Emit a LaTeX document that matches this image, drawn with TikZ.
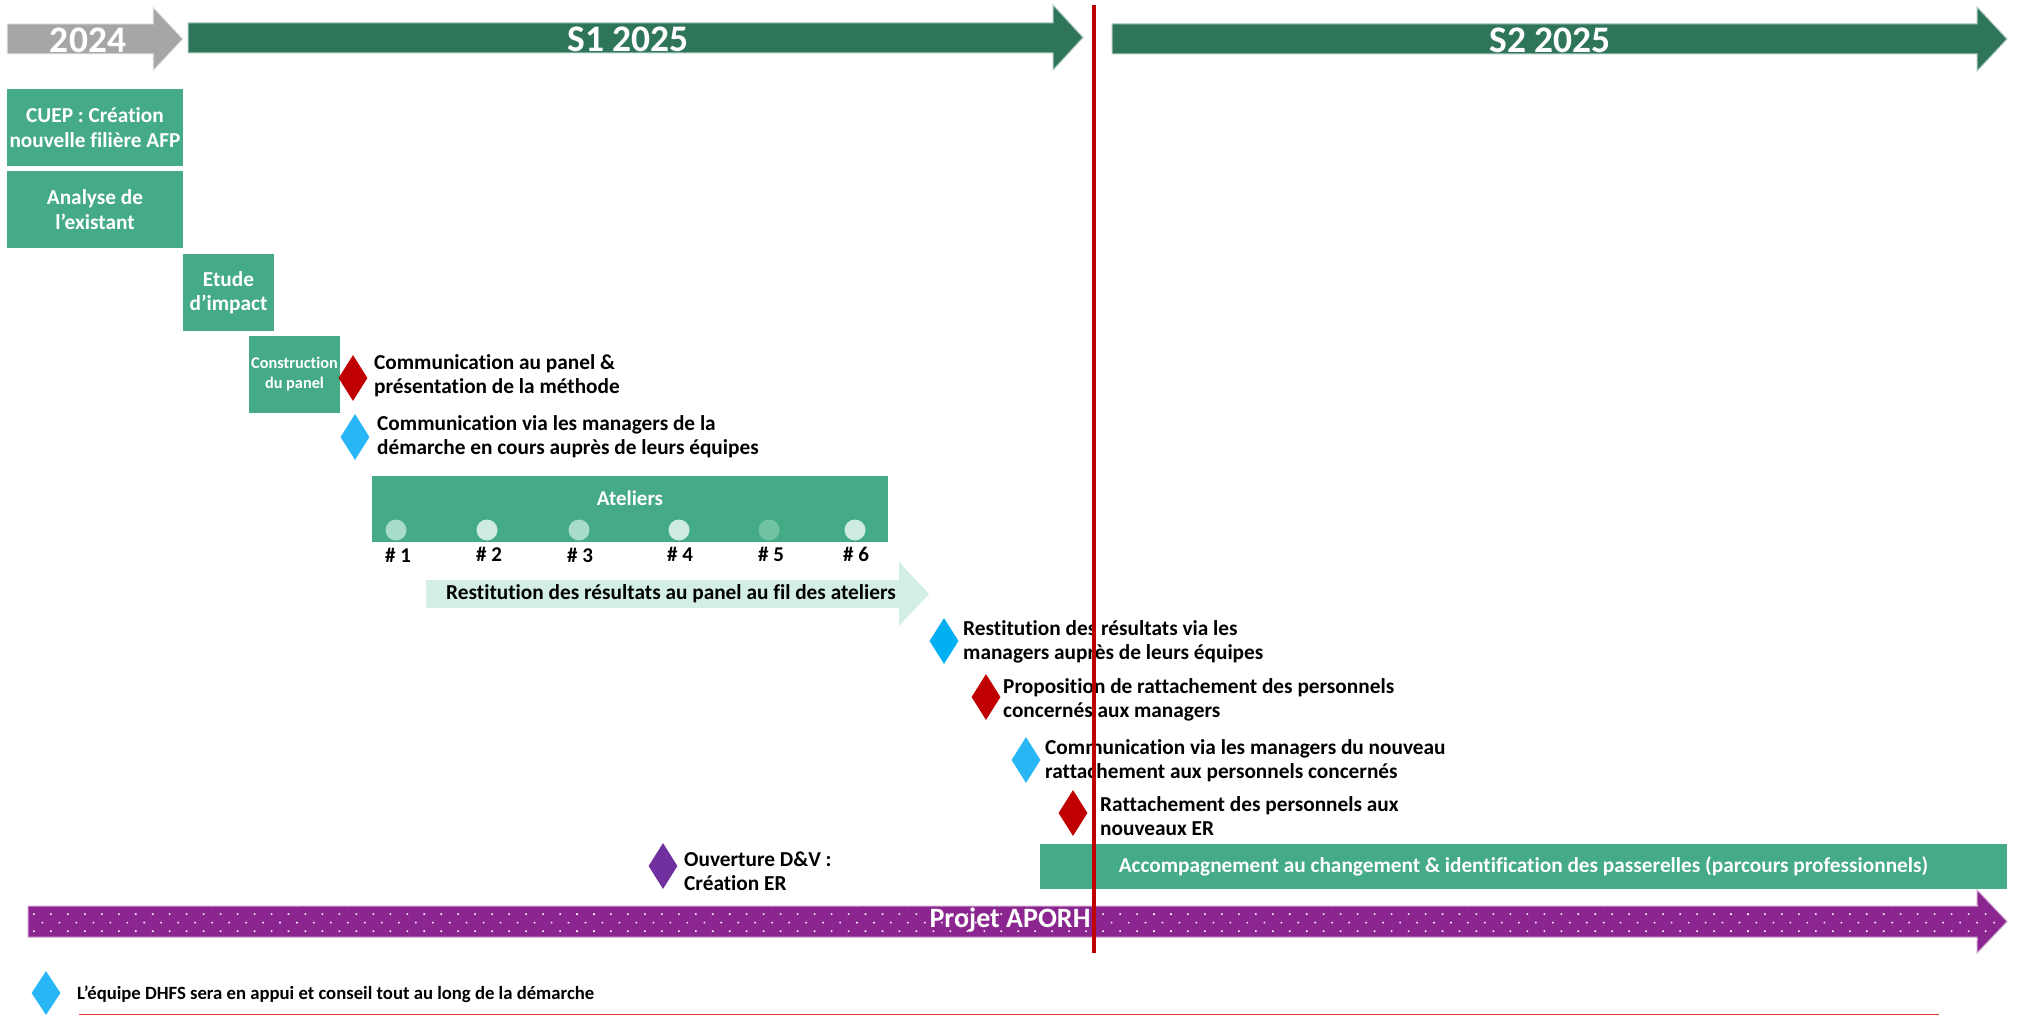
\documentclass[tikz,border=0pt]{standalone}
\usepackage{fontspec}
\setmainfont{Carlito}[Ligatures=NoCommon]
\usetikzlibrary{shapes.geometric,patterns.meta}

\definecolor{dkgreen}{RGB}{46,117,89}
\definecolor{boxgreen}{RGB}{69,171,134}
\definecolor{arrgray}{RGB}{166,166,166}
\definecolor{redline}{RGB}{192,0,0}
\definecolor{dred}{RGB}{192,0,0}
\definecolor{blueA}{RGB}{0,176,240}
\definecolor{blueB}{RGB}{41,182,246}
\definecolor{dpurple}{RGB}{112,48,160}
\definecolor{projpurple}{RGB}{139,38,144}
\definecolor{mint}{RGB}{211,239,228}
\definecolor{bottomred}{RGB}{224,60,50}
\definecolor{cA}{RGB}{168,220,200}
\definecolor{cB}{RGB}{205,235,223}
\definecolor{cC}{RGB}{112,196,164}

\begin{document}
\begin{tikzpicture}[x=1pt,y=-1pt,
  gbox/.style={rectangle, fill=boxgreen, text=white, font=\bfseries\fontsize{21.3}{24.5}\selectfont, align=center, inner sep=0pt},
  milestone/.style={diamond, minimum width=29pt, minimum height=46pt, inner sep=0pt},
  lbl/.style={anchor=west, inner sep=0pt, align=left, font=\bfseries\fontsize{21.3}{24}\selectfont},
  yearlbl/.style={text=white, inner sep=0pt, font=\bfseries\fontsize{37.5}{40}\selectfont},
  dot/.style={circle, minimum size=21pt, inner sep=0pt},
  numlbl/.style={inner sep=0pt, font=\bfseries\fontsize{21}{24}\selectfont}
]
\useasboundingbox (0,0) rectangle (2017,1016);

% --- top timeline arrows ---
\fill[arrgray, draw=white!75!arrgray, line width=1pt] (7,24) -- (153,24) -- (153,7) -- (183,39) -- (153,71) -- (153,54) -- (7,54) -- cycle;
\node[yearlbl] (y2024) at (88,40) {2024};

\fill[dkgreen, draw=white!60!dkgreen, line width=1pt] (188,23) -- (1053,23) -- (1053,5) -- (1083,37.5) -- (1053,70) -- (1053,53) -- (188,53) -- cycle;
\node[yearlbl] (s1) at (628,39) {S1 2025};

\fill[dkgreen, draw=white!60!dkgreen, line width=1pt] (1112,24) -- (1977,24) -- (1977,7) -- (2007,39) -- (1977,71) -- (1977,54) -- (1112,54) -- cycle;
\node[yearlbl] (s2) at (1550,40) {S2 2025};

% --- green task boxes ---
\node[gbox, minimum width=176pt, minimum height=77pt] (cuep) at (95,127.5) {CUEP : Création\\nouvelle filière AFP};
\node[gbox, minimum width=176pt, minimum height=77pt] (analyse) at (95,209.5) {Analyse de\\l’existant};
\node[gbox, minimum width=91pt, minimum height=77pt] (etude) at (228.5,292.5) {Etude\\d’impact};
\node[gbox, minimum width=91pt, minimum height=77pt, font=\bfseries\fontsize{16.3}{20}\selectfont] (constr) at (294.5,374.5) {Construction\\du panel};

% --- milestones ---
\node[milestone, fill=dred] (m1) at (353,378) {};
\node[lbl] (t1) at (374,376) {Communication au panel \&\\présentation de la méthode};
\node[milestone, fill=blueB] (m2) at (355,437) {};
\node[lbl] (t2) at (377,437) {Communication via les managers de la\\démarche en cours auprès de leurs équipes};

% --- ateliers ---
\node[gbox, minimum width=516pt, minimum height=66pt] (ateliers) at (630,509) {};
\node[numlbl, text=white] (ateltxt) at (630,498) {Ateliers};
\node[dot, fill=cA] (a1) at (396,530) {};
\node[dot, fill=cB] (a2) at (487,530) {};
\node[dot, fill=cA] (a3) at (579,530) {};
\node[dot, fill=cB] (a4) at (679,530) {};
\node[dot, fill=cC] (a5) at (769,530) {};
\node[dot, fill=cB] (a6) at (855,530) {};
\node[numlbl] (n1) at (398,555) {\# 1};
\node[numlbl] (n2) at (489,554) {\# 2};
\node[numlbl] (n3) at (580,555) {\# 3};
\node[numlbl] (n4) at (680,554) {\# 4};
\node[numlbl] (n5) at (771,554) {\# 5};
\node[numlbl] (n6) at (856,554) {\# 6};

% --- restitution arrow ---
\fill[mint] (426,580) -- (899,580) -- (899,562) -- (929,594) -- (899,626) -- (899,608) -- (426,608) -- cycle;
\node[numlbl, font=\bfseries\fontsize{21.3}{24}\selectfont] (resti) at (671,594) {Restitution des résultats au panel au fil des ateliers};

% --- later milestones ---
\node[milestone, fill=blueA] (m3) at (944,641) {};
\node[lbl] (t3) at (963,642) {Restitution des résultats via les\\managers auprès de leurs équipes};
\node[milestone, fill=dred] (m4) at (986,697) {};
\node[lbl] (t4) at (1003,700) {Proposition de rattachement des personnels\\concernés aux managers};
\node[milestone, fill=blueB] (m5) at (1026,760) {};
\node[lbl] (t5) at (1045,761) {Communication via les managers du nouveau\\rattachement aux personnels concernés};
\node[milestone, fill=dred] (m6) at (1073,813) {};
\node[lbl] (t6) at (1100,816) {Rattachement des personnels aux\\nouveaux ER};
\node[milestone, fill=dpurple] (m7) at (663,866) {};
\node[lbl] (t7) at (684,871) {Ouverture D\&V :\\Création ER};

% --- accompagnement ---
\node[gbox, minimum width=967pt, minimum height=45pt] (accomp) at (1523.5,866.5) {Accompagnement au changement \& identification des passerelles (parcours professionnels)};

% --- projet APORH arrow ---
\path[preaction={fill=projpurple}, pattern={Dots[distance=12pt, angle=45, radius=1.1pt]}, pattern color=white, draw=white!55!projpurple, line width=1pt]
  (28,906) -- (1977,906) -- (1977,890) -- (2007,921.5) -- (1977,953) -- (1977,937) -- (28,937) -- cycle;
\node[text=white, inner sep=0pt, font=\bfseries\fontsize{28}{32}\selectfont] (aporh) at (1010,920) {Projet APORH};

% --- legend ---
\node[milestone, fill=blueB, minimum height=44pt] (leg) at (46,993) {};
\node[lbl, font=\bfseries\fontsize{18.7}{22}\selectfont] (legt) at (77,994) {L’équipe DHFS sera en appui et conseil tout au long de la démarche};
\coordinate (bl1) at (79,1014.5);
\coordinate (bl2) at (1939,1014.5);
\draw[bottomred, line width=1.5pt] (bl1) -- (bl2);

% --- today line ---
\coordinate (rtop) at (1094,5);
\coordinate (rbot) at (1094,953);
\draw[redline, line width=4.5pt] (rtop) -- (rbot);
\end{tikzpicture}
\end{document}
